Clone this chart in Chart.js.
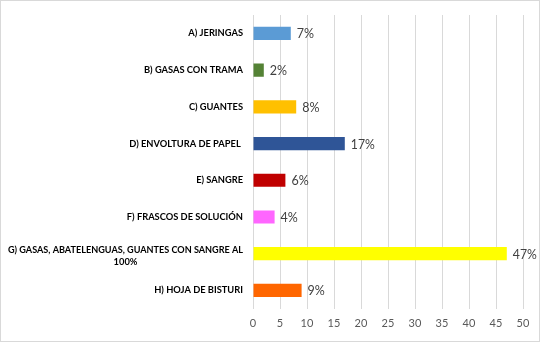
<!DOCTYPE html>
<html>
<head>
<meta charset="utf-8">
<script src="https://cdn.jsdelivr.net/npm/chart.js@4/dist/chart.umd.min.js"></script>
<style>
html,body{margin:0;padding:0;background:#fff;}
#wrap{position:relative;width:540px;height:342px;box-sizing:border-box;border:1px solid #d9d9d9;}
#c{display:block;}
</style>
</head>
<body>
<div id="wrap"><canvas id="c" width="538" height="340"></canvas></div>
<script>
const categories = [
  "A) JERINGAS",
  "B) GASAS CON TRAMA",
  "C) GUANTES",
  "D) ENVOLTURA DE PAPEL ",
  "E) SANGRE",
  "F) FRASCOS DE SOLUCIÓN",
  ["G) GASAS, ABATELENGUAS, GUANTES CON SANGRE AL", "100%"],
  "H) HOJA DE BISTURI"
];
const values = [7, 2, 8, 17, 6, 4, 47, 9];
const barColors = ["#5B9BD5", "#548235", "#FFC000", "#2F5597", "#C00000", "#FF66FF", "#FFFF00", "#FF6600"];
const xTicks = [0, 5, 10, 15, 20, 25, 30, 35, 40, 45, 50];

const LABEL_FONT = 'bold 9.3px Lato, "Liberation Sans", sans-serif';

const labelPlugin = {
  id: 'pctLabels',
  afterDatasetsDraw(chart) {
    const ctx = chart.ctx;
    const meta = chart.getDatasetMeta(0);
    ctx.save();
    ctx.font = '12.5px Lato, "Liberation Sans", sans-serif';
    ctx.fillStyle = '#404040';
    ctx.textAlign = 'left';
    ctx.textBaseline = 'middle';
    meta.data.forEach((el, i) => {
      ctx.fillText(values[i] + '%', el.x + 6, el.y + 1, 24);
    });
    ctx.restore();
  }
};

const catLabelPlugin = {
  id: 'catLabels',
  afterDraw(chart) {
    const ctx = chart.ctx;
    const y = chart.scales.y;
    const right = y.right - 10;
    const maxW = 235;
    ctx.save();
    ctx.font = LABEL_FONT;
    ctx.fillStyle = '#000000';
    ctx.textBaseline = 'middle';
    categories.forEach((lab, i) => {
      const py = y.getPixelForTick(i);
      if (Array.isArray(lab)) {
        const lineH = 12;
        const w0 = Math.min(ctx.measureText(lab[0]).width, maxW);
        const cx = right - w0 / 2;
        const startY = py - (lab.length - 1) * lineH / 2 + 2;
        ctx.textAlign = 'center';
        lab.forEach((line, j) => {
          ctx.fillText(line, cx, startY + j * lineH, maxW);
        });
      } else {
        ctx.textAlign = 'right';
        ctx.fillText(lab, right, py, maxW);
      }
    });
    ctx.restore();
  }
};

new Chart(document.getElementById('c'), {
  type: 'bar',
  data: {
    labels: categories,
    datasets: [{
      data: values,
      backgroundColor: barColors,
      borderWidth: 0,
      barPercentage: 0.36,
      categoryPercentage: 1.0
    }]
  },
  options: {
    indexAxis: 'y',
    responsive: false,
    animation: false,
    devicePixelRatio: 1,
    layout: { padding: { top: 14, right: 16, bottom: 3, left: 0 } },
    plugins: { legend: { display: false }, tooltip: { enabled: false } },
    scales: {
      x: {
        min: 0, max: 50,
        afterBuildTicks(scale) { scale.ticks = xTicks.map(v => ({ value: v })); },
        grid: { color: '#d9d9d9', lineWidth: 1, drawTicks: false },
        border: { display: false },
        ticks: {
          color: '#595959',
          padding: 8,
          font: { family: 'Lato, "Liberation Sans", sans-serif', size: 11 }
        }
      },
      y: {
        afterFit(scale) { scale.width = 252; },
        grid: { display: false, drawTicks: false },
        border: { display: true, color: '#d9d9d9', width: 1 },
        ticks: { display: false }
      }
    }
  },
  plugins: [labelPlugin, catLabelPlugin]
});
</script>
</body>
</html>
